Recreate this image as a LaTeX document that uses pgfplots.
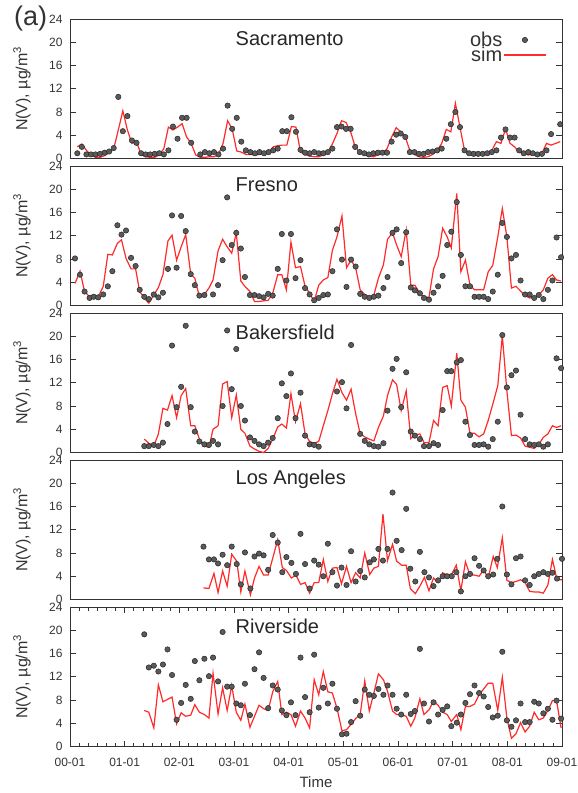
\documentclass[border=0pt]{standalone}
\usepackage{fontspec}
\setmainfont{Liberation Sans}
\usepackage{pgfplots}
\pgfplotsset{compat=1.18}
\definecolor{txt}{HTML}{333333}
\definecolor{simred}{HTML}{FF2A2A}
\definecolor{obsgray}{HTML}{5A5A5A}

\tikzset{ttl/.style={anchor=west, font=\fontsize{20}{20}\selectfont, text=black!85}}
\pgfplotsset{
  panel/.style={
    scale only axis, width=492pt, height=139.5pt, anchor=north west,
    xmin=0, xmax=108, ymin=0, ymax=24,
    ytick={0,4,...,24}, xtick=\empty,
    tick align=inside, major tick length=6pt, minor tick length=3.5pt,
    axis line style={draw=txt, line width=0.9pt},
    every tick/.style={draw=txt, line width=0.7pt},
    tick label style={font=\fontsize{12}{12}\selectfont, text=txt},
    yticklabel style={xshift=-4pt},
    /pgf/number format/assume math mode=true,
    ylabel={N(V), µg/m\textsuperscript{3}},
    every axis y label/.style={at={([xshift=-48pt]axis description cs:0,0.5)},
      rotate=90, anchor=center, font=\fontsize{16}{16}\selectfont, text=txt},
    clip=false,
  },
  obs/.style={only marks, mark=*, mark size=2.7pt,
    mark options={fill=obsgray, draw=black!85, line width=0.5pt}},
  sim/.style={simred, line width=1.2pt, mark=none},
}

\begin{document}
\begin{tikzpicture}
\useasboundingbox (0,0) rectangle (578pt,-793pt);
\node[anchor=north west, font=\fontsize{27}{27}\selectfont, text=txt, inner sep=0pt] at (14pt,-6pt) {(a)};

% ---------------- Sacramento
\begin{axis}[panel, at={(70pt,-19pt)},
  legend style={at={(axis description cs:0.975,0.93)}, anchor=north east,
    draw=none, fill=none, font=\fontsize{20}{20}\selectfont, text=txt,
    row sep=-3pt, nodes={inner sep=1pt}},
  legend cell align=right, legend plot pos=right,
  legend image code/.code={\draw[mark repeat=2,mark phase=2] plot coordinates {(0pt,0pt) (21pt,0pt) (42pt,0pt)};},
]
\addplot[obs] table {
1.6 0.9
2.6 2.0
3.6 0.7
4.6 0.7
5.6 0.7
6.6 0.8
7.6 1.0
8.6 1.2
9.6 1.8
10.6 10.6
11.6 4.7
12.6 7.3
13.6 3.1
14.6 2.7
15.6 0.9
16.6 0.7
17.6 0.7
18.6 0.8
19.6 0.9
20.6 0.7
21.6 1.4
22.6 5.5
23.6 3.4
24.6 7.0
25.6 7.0
26.6 2.7
28.6 0.7
29.6 1.1
30.6 0.9
31.6 1.1
32.6 0.7
33.6 1.7
34.6 9.1
35.6 5.1
36.6 7.0
37.6 2.9
38.6 1.4
39.6 1.1
40.6 0.9
41.6 1.1
42.6 0.9
43.6 1.1
44.6 1.4
45.6 1.7
46.6 4.7
47.6 4.7
48.6 7.1
49.6 4.6
50.6 1.5
51.6 1.0
52.6 0.9
53.6 1.1
54.6 0.9
55.6 0.9
56.6 1.1
57.6 1.7
58.6 5.4
59.6 5.5
60.6 5.1
61.6 5.1
62.6 2.0
63.6 1.1
64.6 0.9
65.6 0.7
66.6 0.9
67.6 1.0
68.6 1.0
69.6 1.0
70.6 2.9
71.6 4.1
72.6 4.3
73.6 3.7
74.6 1.1
75.6 1.1
76.6 0.8
77.6 0.8
78.6 1.1
79.6 1.2
80.6 1.4
81.6 1.7
82.6 3.4
83.6 5.9
84.6 8.0
85.6 5.4
86.6 1.4
87.6 0.9
88.6 0.8
89.6 0.8
90.6 0.8
91.6 0.9
92.6 1.1
93.6 1.4
94.6 3.6
95.6 5.0
96.6 3.6
97.6 3.6
98.6 1.4
99.6 0.9
100.6 1.1
101.6 0.9
102.6 0.7
103.6 0.8
104.6 1.4
105.6 4.2
107.6 5.9
};
\addlegendentry{obs}
\addplot[sim] table {
1.6 2.0
2.6 2.5
3.6 1.4
4.6 0.6
5.6 0.2
6.6 0.2
7.6 0.5
8.6 1.0
9.6 1.7
10.6 4.9
11.6 8.2
12.6 4.9
13.6 2.6
14.6 2.9
15.6 0.7
16.6 0.3
17.6 0.2
18.6 0.2
19.6 0.6
20.6 1.7
21.6 5.4
22.6 4.9
23.6 5.4
24.6 6.0
25.6 3.7
26.6 2.6
27.6 0.6
28.6 0.2
29.6 0.2
30.6 0.3
31.6 0.3
32.6 0.7
33.6 2.6
34.6 6.5
35.6 5.1
36.6 1.3
37.6 1.1
38.6 0.7
39.6 0.7
40.6 0.6
41.6 0.7
42.6 0.9
43.6 1.0
44.6 2.0
45.6 2.2
46.6 2.3
47.6 2.3
48.6 5.5
49.6 5.4
50.6 1.1
51.6 0.7
52.6 0.4
53.6 0.3
54.6 0.3
55.6 0.6
56.6 1.1
57.6 2.5
58.6 4.3
59.6 6.5
60.6 6.2
61.6 4.6
62.6 2.0
63.6 1.1
64.6 0.7
65.6 0.4
66.6 0.3
67.6 0.6
68.6 0.9
69.6 1.7
70.6 3.7
71.6 5.3
72.6 4.6
73.6 3.7
74.6 1.4
75.6 0.7
76.6 0.3
77.6 0.2
78.6 0.3
79.6 0.7
80.6 1.4
81.6 2.6
82.6 5.0
83.6 4.6
84.6 9.5
85.6 5.4
86.6 1.4
87.6 1.0
88.6 0.9
89.6 0.7
90.6 0.7
91.6 1.0
92.6 1.4
93.6 2.9
94.6 2.6
95.6 5.1
96.6 2.6
97.6 2.0
98.6 1.1
99.6 0.9
100.6 0.6
101.6 0.7
102.6 0.6
103.6 0.9
104.6 2.6
105.6 2.3
106.6 2.6
107.6 2.9
};
\addlegendentry{sim}
\node[ttl] at (axis cs:35.6,20.7) {Sacramento};
\end{axis}

% ---------------- Fresno
\begin{axis}[panel, at={(70pt,-166pt)}]
\addplot[obs] table {
1.1 8.1
2.2 5.3
3.2 2.4
4.3 1.3
5.2 1.5
6.2 1.4
7.3 1.9
8.3 3.3
9.3 5.9
10.4 13.8
11.3 12.2
12.3 12.9
13.4 8.2
14.4 6.8
15.3 2.7
16.3 1.5
17.3 1.1
18.4 1.9
19.4 1.4
20.4 2.2
21.5 6.3
22.4 15.5
23.4 6.5
24.4 15.4
25.4 12.8
26.5 5.4
27.4 3.5
28.4 1.7
29.5 1.8
31.4 1.9
32.5 3.5
33.5 7.8
34.5 18.6
35.5 10.4
36.5 12.5
37.5 9.8
38.4 4.9
39.5 1.8
40.5 1.8
41.5 1.6
42.5 1.4
43.5 2.0
44.5 1.7
45.6 6.3
46.5 12.3
47.5 4.3
48.5 12.3
49.5 4.7
50.6 7.8
51.6 3.0
52.6 1.9
53.6 0.9
54.6 1.3
55.6 1.8
56.6 1.9
57.6 5.9
58.6 13.1
59.7 7.9
60.7 3.2
61.7 7.9
62.7 6.7
63.7 2.0
64.7 1.5
65.7 1.3
66.7 1.5
67.7 1.7
68.8 3.0
69.7 4.9
70.8 12.5
71.7 13.1
72.7 7.3
73.8 12.6
74.8 3.1
75.7 2.6
76.8 2.1
77.7 1.3
78.8 1.0
79.8 2.2
80.8 3.3
81.8 5.1
82.8 10.4
83.7 12.7
84.9 17.8
85.8 8.7
86.8 3.3
87.8 3.3
88.8 1.5
89.8 1.5
90.8 1.5
91.8 1.1
92.8 2.4
93.9 5.3
94.9 14.2
95.9 11.8
96.9 8.1
97.9 8.7
98.9 4.3
99.9 1.9
100.9 1.9
101.9 1.3
102.9 1.8
103.9 1.1
104.9 2.7
105.9 4.3
106.8 11.7
107.8 8.3
};
\addplot[sim] table {
1.1 3.8
2.2 5.9
3.2 2.4
4.3 1.5
5.2 1.8
6.2 1.5
7.3 3.3
8.3 8.8
9.3 8.7
10.4 10.7
11.3 11.3
12.3 8.1
13.4 6.3
14.4 6.3
15.3 2.4
16.3 1.3
17.3 0.4
18.4 1.8
19.4 3.1
20.4 5.3
21.5 11.1
22.4 12.1
23.4 7.8
24.4 10.1
25.4 12.2
26.5 5.4
27.4 4.7
28.4 1.5
29.5 1.9
30.5 3.0
31.4 4.4
32.5 9.4
33.5 11.4
34.5 10.1
35.5 9.0
36.5 12.5
37.5 4.2
38.4 3.3
39.5 2.4
40.5 0.7
41.5 0.7
42.5 0.8
43.5 0.9
44.5 2.1
45.6 5.3
46.5 5.3
47.5 2.7
48.5 10.9
49.5 6.5
50.6 6.7
51.6 3.3
52.6 2.1
53.6 0.7
54.6 3.5
55.6 4.4
56.6 4.8
57.6 9.5
58.6 11.8
59.7 15.4
60.7 6.5
61.7 7.8
62.7 6.5
63.7 2.7
64.7 1.9
65.7 1.5
66.7 1.8
67.7 4.7
68.8 7.0
69.7 11.4
70.8 12.5
71.7 10.4
72.7 8.4
73.8 13.0
74.8 3.5
75.7 3.5
76.8 2.1
77.7 1.5
78.8 1.4
79.8 6.3
80.8 8.4
81.8 13.3
82.8 11.8
83.7 9.9
84.9 19.3
85.8 5.8
86.8 7.8
87.8 3.5
88.8 2.7
89.8 2.7
90.8 2.7
91.8 5.8
92.8 6.9
93.9 11.8
94.9 16.7
95.9 11.8
96.9 3.0
97.9 3.3
98.9 2.5
99.9 1.7
100.9 1.3
101.9 1.5
102.9 1.8
103.9 2.7
104.9 4.7
105.9 5.3
106.8 4.4
107.8 4.2
};
\node[ttl] at (axis cs:35.6,20.7) {Fresno};
\end{axis}

% ---------------- Bakersfield
\begin{axis}[panel, at={(70pt,-313pt)}]
\addplot[obs] table {
16.3 1.1
17.3 1.1
18.4 1.3
19.4 1.1
20.4 1.7
21.4 4.9
22.4 18.4
23.4 7.8
24.4 11.3
25.4 21.8
26.5 7.8
27.4 3.6
28.4 1.9
29.5 1.4
30.5 1.3
31.4 2.0
32.5 1.4
33.5 8.0
34.5 21.0
35.5 10.9
36.5 17.8
37.5 8.0
38.4 5.5
39.5 2.6
40.5 2.0
41.5 1.4
42.5 1.1
43.5 1.7
44.5 2.5
45.6 5.9
46.5 11.9
47.5 9.7
48.5 13.6
49.5 5.9
50.6 10.3
51.6 2.9
52.6 1.4
53.6 1.3
54.6 1.0
58.6 10.5
59.7 12.1
60.7 7.6
61.7 18.5
63.7 3.2
64.7 2.0
65.7 1.4
66.7 1.1
67.7 1.0
68.8 1.6
69.7 7.2
70.8 14.4
71.7 16.1
72.7 7.8
73.8 13.8
74.8 3.6
75.7 2.9
76.8 2.3
77.7 1.1
78.8 1.1
79.8 1.6
80.8 1.3
81.8 7.3
82.8 14.0
83.7 14.0
84.9 15.5
85.8 15.9
86.8 5.3
87.8 3.0
88.8 1.3
89.8 1.3
90.8 1.4
91.8 1.0
92.8 2.3
93.9 5.3
94.9 20.2
95.9 11.2
96.9 13.3
97.9 14.1
98.9 6.5
99.9 2.3
100.9 1.4
101.9 1.3
102.9 1.4
103.9 1.0
104.9 1.4
106.8 16.2
107.8 14.5
};
\addplot[sim] table {
16.3 2.3
17.3 1.6
18.4 1.1
19.4 3.2
20.4 7.6
21.4 7.3
22.4 9.8
23.4 6.0
24.4 9.8
25.4 11.0
26.5 4.6
27.4 4.6
28.4 2.3
29.5 1.1
30.5 0.9
31.4 4.0
32.5 4.6
33.5 11.8
34.5 12.2
35.5 6.0
36.5 9.9
37.5 4.0
38.4 3.3
39.5 1.1
40.5 0.6
41.5 0.2
42.5 0.0
43.5 0.7
44.5 2.3
45.6 4.4
46.5 4.9
47.5 4.2
48.5 10.1
49.5 5.3
50.6 8.4
51.6 3.2
52.6 1.9
53.6 1.6
54.6 1.9
55.6 4.6
56.6 7.2
57.6 10.1
58.6 12.6
59.7 10.3
60.7 9.0
61.7 10.9
62.7 6.7
63.7 3.2
64.7 2.7
65.7 2.3
66.7 2.0
67.7 4.3
68.8 6.3
69.7 9.8
70.8 12.5
71.7 11.7
72.7 7.2
73.8 10.6
74.8 2.4
75.7 3.0
76.8 3.2
77.7 1.7
78.8 1.7
79.8 5.5
80.8 4.6
81.8 11.2
82.8 11.5
83.7 8.0
84.9 17.1
85.8 9.0
86.8 7.8
87.8 3.3
88.8 3.3
89.8 2.7
90.8 3.2
91.8 5.5
92.8 8.3
93.9 11.5
94.9 20.1
95.9 10.6
96.9 2.9
97.9 3.0
98.9 2.5
99.9 1.1
100.9 0.9
101.9 0.7
102.9 1.4
103.9 2.6
104.9 3.2
105.9 4.6
106.8 4.3
107.8 4.6
};
\node[ttl] at (axis cs:35.6,20.7) {Bakersfield};
\end{axis}

% ---------------- Los Angeles
\begin{axis}[panel, at={(70pt,-460pt)}]
\addplot[obs] table {
29.3 9.1
30.5 6.9
31.6 6.9
32.5 6.2
33.5 7.7
34.5 5.9
35.5 9.1
36.6 6.1
37.5 2.6
38.4 8.1
39.6 1.9
40.5 7.4
41.5 7.9
42.5 7.6
43.5 5.1
44.5 11.1
45.6 9.8
46.6 4.7
47.5 7.3
48.6 6.3
49.6 4.4
50.6 11.3
51.6 6.1
52.6 1.9
53.6 6.7
54.6 6.0
55.6 4.0
56.6 9.6
57.6 4.7
58.6 2.4
59.6 5.5
60.7 2.5
61.7 8.3
62.7 3.1
63.7 4.9
64.7 3.8
65.8 6.4
66.7 6.9
67.7 8.7
68.7 6.7
69.7 8.7
70.8 18.4
71.7 10.1
72.8 8.5
73.8 15.6
74.7 5.3
75.8 3.1
76.8 8.2
77.8 4.7
78.8 3.8
79.8 2.3
80.8 3.3
81.8 4.0
82.8 4.0
83.8 4.0
84.8 4.7
85.8 1.4
86.8 4.0
87.8 4.4
88.8 7.1
89.8 5.8
90.8 5.0
91.8 4.0
92.9 4.3
93.8 7.0
94.9 16.0
95.9 4.3
96.9 2.6
97.9 7.1
98.9 7.4
99.9 3.3
100.9 2.5
101.9 4.0
102.9 4.4
103.9 4.7
104.9 4.4
105.9 4.6
106.9 3.6
108.0 7.0
};
\addplot[sim] table {
29.3 2.0
30.5 1.9
31.6 4.5
32.5 1.2
33.5 4.9
34.5 2.3
35.5 7.8
36.6 6.6
37.5 1.3
38.4 4.9
39.6 0.8
40.5 3.7
41.5 5.7
42.5 4.2
43.5 4.2
44.5 7.1
45.6 10.3
46.6 5.5
47.5 5.0
48.6 3.7
49.6 4.2
50.6 2.6
51.6 2.9
52.6 1.1
53.6 2.9
54.6 2.9
55.6 6.9
56.6 3.1
57.6 5.4
58.6 5.5
59.6 2.7
60.7 5.7
61.7 2.9
62.7 4.6
63.7 3.7
64.7 8.0
65.8 4.3
66.7 5.4
67.7 5.7
68.7 14.7
69.7 6.7
70.8 9.5
71.7 6.6
72.8 5.9
73.8 5.9
74.7 1.9
75.8 1.0
76.8 2.3
77.8 3.8
78.8 1.5
79.8 3.7
80.8 2.9
81.8 4.6
82.8 4.2
83.8 4.4
84.8 5.9
85.8 1.5
86.8 6.5
87.8 4.2
88.8 4.2
89.8 4.0
90.8 5.1
91.8 3.7
92.9 7.4
93.8 5.5
94.9 10.6
95.9 3.3
96.9 2.9
97.9 3.1
98.9 3.4
99.9 2.9
100.9 1.4
101.9 1.3
102.9 1.3
103.9 1.1
104.9 2.5
105.9 6.9
106.9 3.4
108.0 3.4
};
\node[ttl] at (axis cs:35.6,20.7) {Los Angeles};
\end{axis}

% ---------------- Riverside
\begin{axis}[panel, at={(70pt,-607pt)},
  xtick={0,12,...,108},
  xticklabels={00-01,01-01,02-01,03-01,04-01,05-01,06-01,07-01,08-01,09-01},
  minor x tick num=5,
  xticklabel style={yshift=-8pt},
  xlabel={Time},
  every axis x label/.style={at={(axis description cs:0.5,0)}, yshift=-36pt,
    anchor=center, font=\fontsize{15}{15}\selectfont, text=txt},
]
\addplot[obs] table {
16.3 19.3
17.3 13.6
18.4 13.9
19.4 12.9
20.4 14.1
21.4 16.7
22.4 12.3
23.4 4.6
24.4 7.5
25.4 10.6
26.5 8.2
27.4 14.7
28.4 11.4
29.5 15.1
30.5 12.1
31.4 15.3
32.5 11.2
33.5 19.7
34.5 10.3
35.5 10.3
36.5 7.4
37.5 7.1
38.4 10.8
39.5 5.4
40.5 13.3
41.5 16.2
42.5 11.8
43.5 6.6
44.5 10.5
45.6 9.8
46.5 6.2
47.5 5.4
48.5 7.6
49.5 5.4
50.6 15.3
51.6 8.5
52.6 5.9
53.6 15.8
54.6 6.7
55.6 10.1
56.6 7.4
57.6 10.8
58.6 6.5
59.7 2.1
60.7 2.2
61.7 4.2
62.7 7.8
63.7 5.3
64.7 9.8
65.7 8.9
66.7 8.7
67.7 9.9
68.8 8.9
69.7 10.5
70.8 8.9
71.7 6.5
72.7 5.5
73.8 8.9
74.8 5.6
75.7 6.1
76.8 16.8
77.7 7.4
78.8 4.3
79.8 7.6
80.8 5.5
81.8 6.3
82.8 6.9
83.7 3.5
84.9 4.1
85.8 5.5
86.8 7.5
87.8 9.0
88.8 10.5
89.8 9.2
90.8 8.6
91.8 6.8
92.8 5.0
93.9 5.3
94.9 16.3
95.9 4.5
96.9 3.4
97.9 4.5
98.9 7.4
99.9 4.2
100.9 4.2
101.9 7.7
102.9 7.4
103.9 5.7
104.9 6.5
105.9 4.6
106.8 7.9
107.8 4.8
};
\addplot[sim] table {
16.3 6.2
17.3 5.9
18.4 3.2
19.4 10.6
20.4 7.7
21.4 8.1
22.4 8.5
23.4 3.9
24.4 5.8
25.4 5.2
26.5 5.4
27.4 7.2
28.4 5.9
29.5 5.5
30.5 4.9
31.4 12.6
32.5 5.6
33.5 10.1
34.5 6.2
35.5 10.5
36.5 5.9
37.5 4.5
38.4 7.3
39.5 3.3
40.5 5.2
41.5 7.1
42.5 6.5
43.5 6.2
44.5 9.4
45.6 11.2
46.5 5.5
47.5 5.9
48.5 5.5
49.5 3.5
50.6 6.1
51.6 4.9
52.6 3.2
53.6 11.5
54.6 8.9
55.6 12.9
56.6 9.4
57.6 9.2
58.6 6.6
59.7 2.7
60.7 2.9
61.7 3.8
62.7 4.8
63.7 5.5
64.7 11.3
65.7 6.1
66.7 9.2
67.7 12.5
68.8 11.5
69.7 9.5
70.8 6.1
71.7 5.5
72.7 5.5
73.8 5.2
74.8 3.5
75.7 4.9
76.8 8.2
77.7 5.5
78.8 6.3
79.8 7.8
80.8 7.1
81.8 5.9
82.8 5.5
83.7 4.3
84.9 5.5
85.8 2.9
86.8 6.9
87.8 6.9
88.8 7.3
89.8 8.9
90.8 9.9
91.8 10.9
92.8 10.9
93.9 6.2
94.9 11.9
95.9 4.9
96.9 1.4
97.9 2.2
98.9 4.1
99.9 2.5
100.9 3.5
101.9 5.9
102.9 4.6
103.9 4.9
104.9 6.2
105.9 7.9
106.8 7.9
107.8 3.2
};
\node[ttl] at (axis cs:35.6,20.7) {Riverside};
\end{axis}
\end{tikzpicture}
\end{document}
